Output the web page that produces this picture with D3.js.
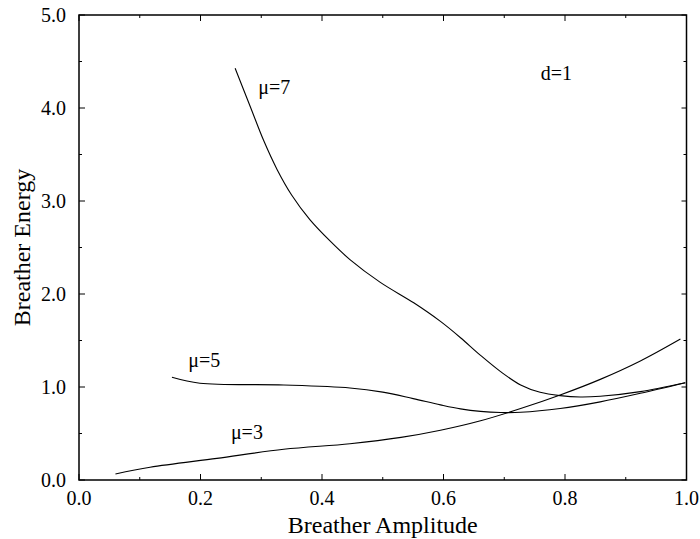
<!DOCTYPE html>
<html>
<head>
<meta charset="utf-8">
<script src="https://cdn.jsdelivr.net/npm/d3@7"></script>
<style>
    body { margin: 0; background: #fff; }
    text { font-family: "Liberation Serif", "Times New Roman", serif; fill: #000; }
</style>
</head>
<body>
<div id="chart"></div>
<script>
// breather amplitude / energy
var amp3 = [0.060, 0.117, 0.227, 0.337, 0.446, 0.530, 0.595, 0.661, 0.727, 0.792, 0.858, 0.924, 0.990];
var energy3 = [0.065, 0.137, 0.233, 0.330, 0.390, 0.458, 0.535, 0.637, 0.768, 0.914, 1.082, 1.280, 1.516];

var amp5 = [0.153, 0.199, 0.337, 0.446, 0.500, 0.550, 0.595, 0.628, 0.661, 0.694, 0.727, 0.792, 0.858, 0.924, 0.998];
var energy5 = [1.104, 1.040, 1.022, 0.990, 0.945, 0.875, 0.808, 0.765, 0.738, 0.726, 0.728, 0.768, 0.840, 0.932, 1.046];

var amp7 = [0.257, 0.282, 0.304, 0.326, 0.350, 0.380, 0.414, 0.446, 0.496, 0.551, 0.595,
            0.628, 0.661, 0.694, 0.727, 0.759, 0.792, 0.825, 0.858, 0.924, 0.998];
var energy7 = [4.427, 4.014, 3.650, 3.340, 3.065, 2.800, 2.565, 2.370, 2.125, 1.905, 1.705,
               1.530, 1.340, 1.165, 1.022, 0.943, 0.907, 0.892, 0.900, 0.950, 1.046];

var xTicks = [0.0, 0.2, 0.4, 0.6, 0.8, 1.0];
var yTicks = [0.0, 1.0, 2.0, 3.0, 4.0, 5.0];

var series = [
    { name: '\u03bc=3', x: amp3, y: energy3, lx: 0.25, ly: 0.44 },
    { name: '\u03bc=5', x: amp5, y: energy5, lx: 0.18, ly: 1.22 },
    { name: '\u03bc=7', x: amp7, y: energy7, lx: 0.295, ly: 4.15 }
];

var width = 700, height = 539;
var margin = { top: 15, right: 13.5, bottom: 59, left: 79 };
var w = width - margin.left - margin.right;
var h = height - margin.top - margin.bottom;

var svg = d3.select('#chart').append('svg')
    .attr('width', width)
    .attr('height', height);

var g = svg.append('g')
    .attr('transform', 'translate(' + margin.left + ',' + margin.top + ')');

var x = d3.scaleLinear().domain([0, 1]).range([0, w]);
var y = d3.scaleLinear().domain([0, 5]).range([h, 0]);

var fmt = d3.format('.1f');

// minor ticks in between the labelled ones
var xMinor = d3.range(0.1, 1.0, 0.2);
var yMinor = d3.range(0.5, 5.0, 1.0);

function drawTicks(values, len, side) {
    values.forEach(function(v) {
        var line = g.append('line')
            .attr('stroke', '#000')
            .attr('stroke-width', 1);
        if (side == 'bottom') line.attr('x1', x(v)).attr('x2', x(v)).attr('y1', h).attr('y2', h - len);
        if (side == 'top') line.attr('x1', x(v)).attr('x2', x(v)).attr('y1', 0).attr('y2', len);
        if (side == 'left') line.attr('y1', y(v)).attr('y2', y(v)).attr('x1', 0).attr('x2', len);
        if (side == 'right') line.attr('y1', y(v)).attr('y2', y(v)).attr('x1', w).attr('x2', w - len);
    });
}

drawTicks(xTicks, 6, 'bottom');
drawTicks(xMinor, 3, 'bottom');
drawTicks(xTicks, 6, 'top');
drawTicks(xMinor, 3, 'top');
drawTicks(yTicks, 6, 'left');
drawTicks(yMinor, 3, 'left');
drawTicks(yTicks, 5, 'right');
drawTicks(yMinor, 3, 'right');

// frame
g.append('rect')
    .attr('x', 0).attr('y', 0)
    .attr('width', w).attr('height', h)
    .attr('fill', 'none')
    .attr('stroke', '#000')
    .attr('stroke-width', 1.5);

// tick labels
g.selectAll('.xlabel').data(xTicks).enter().append('text')
    .attr('class', 'xlabel')
    .attr('x', function(d) { return x(d); })
    .attr('y', h + 25)
    .attr('text-anchor', 'middle')
    .style('font-size', '20px')
    .text(function(d) { return fmt(d); });

g.selectAll('.ylabel').data(yTicks).enter().append('text')
    .attr('class', 'ylabel')
    .attr('x', -13)
    .attr('y', function(d) { return y(d) + 7; })
    .attr('text-anchor', 'end')
    .style('font-size', '20px')
    .text(function(d) { return fmt(d); });

// axis titles
svg.append('text')
    .attr('x', margin.left + w / 2)
    .attr('y', 533)
    .attr('text-anchor', 'middle')
    .style('font-size', '24px')
    .text('Breather Amplitude');

svg.append('text')
    .attr('transform', 'translate(30,' + (margin.top + h / 2) + ') rotate(-90)')
    .attr('text-anchor', 'middle')
    .style('font-size', '24px')
    .text('Breather Energy');

// curves
var line = d3.line()
    .x(function(d) { return x(d[0]); })
    .y(function(d) { return y(d[1]); })
    .curve(d3.curveCatmullRom.alpha(0.5));

series.forEach(function(s) {
    var pts = s.x.map(function(v, i) { return [v, s.y[i]]; });
    g.append('path')
        .datum(pts)
        .attr('d', line)
        .attr('fill', 'none')
        .attr('stroke', '#000')
        .attr('stroke-width', 1.1);

    g.append('text')
        .attr('x', x(s.lx))
        .attr('y', y(s.ly))
        .style('font-size', '20px')
        .text(s.name);
});

g.append('text')
    .attr('x', x(0.76))
    .attr('y', y(4.3))
    .style('font-size', '20px')
    .text('d=1');
</script>
</body>
</html>
